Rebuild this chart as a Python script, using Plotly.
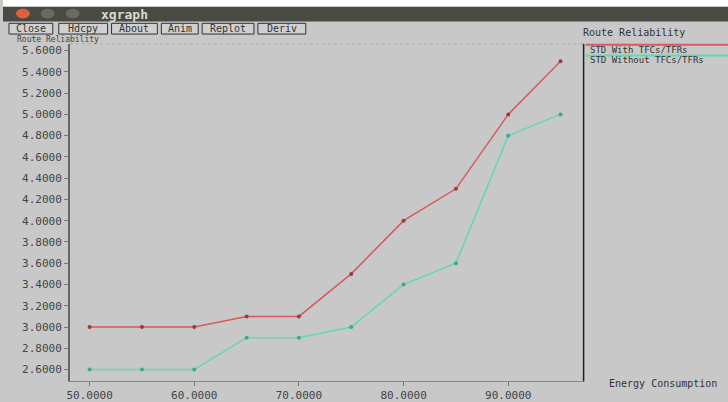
import plotly.graph_objects as go

W, H = 728, 402

x_vals = [50, 55, 60, 65, 70, 75, 80, 85, 90, 95]
with_tfc = [3.0, 3.0, 3.0, 3.1, 3.1, 3.5, 4.0, 4.3, 5.0, 5.5]
without_tfc = [2.6, 2.6, 2.6, 2.9, 2.9, 3.0, 3.4, 3.6, 4.8, 5.0]
series_names = ["STD With TFCs/TFRs", "STD Without TFCs/TFRs"]
y_ticks = [2.6, 2.8, 3.0, 3.2, 3.4, 3.6, 3.8, 4.0, 4.2, 4.4, 4.6, 4.8, 5.0, 5.2, 5.4, 5.6]
x_ticks = [50, 60, 70, 80, 90]
buttons = ["Close", "Hdcpy", "About", "Anim", "Replot", "Deriv"]

RED = "#d65a5a"
GREEN = "#62d8b4"
BG = "#c8c8c8"
MONO = "DejaVu Sans Mono"


def px(x):
    return x / W


def py(y):
    return 1 - y / H


L, R, T, B = 67, 583, 45, 392

fig = go.Figure()
fig.add_trace(go.Scatter(x=x_vals, y=with_tfc, mode="lines+markers", name=series_names[0],
                         line=dict(color=RED, width=1.5),
                         marker=dict(size=4, color="#9a3a3a"), showlegend=False))
fig.add_trace(go.Scatter(x=x_vals, y=without_tfc, mode="lines+markers", name=series_names[1],
                         line=dict(color=GREEN, width=1.5),
                         marker=dict(size=4, color="#3fa888"), showlegend=False))

shapes = []
annotations = []

# window chrome: white strip + title bar
shapes.append(dict(type="rect", xref="paper", yref="paper", x0=0, x1=1, y0=py(7), y1=1,
                   fillcolor="white", line=dict(width=0), layer="below"))
shapes.append(dict(type="rect", xref="paper", yref="paper", x0=0, x1=1, y0=py(22), y1=py(7),
                   fillcolor="#4a4a44", line=dict(width=0), layer="below"))
for cx, col in [(20, "#e0603a"), (45, "#6a6a64"), (70, "#6a6a64")]:
    shapes.append(dict(type="circle", xref="paper", yref="paper",
                       x0=px(cx - 7), x1=px(cx + 7), y0=py(19), y1=py(9),
                       fillcolor=col, line=dict(width=0), layer="above"))
annotations.append(dict(text="<b>xgraph</b>", x=px(96), y=py(14.5), xref="paper", yref="paper",
                        xanchor="left", yanchor="middle", showarrow=False,
                        font=dict(family=MONO, size=13, color="#d8d8d0")))

# buttons
bx = [(6, 50), (56, 105), (109, 155), (159, 196), (200, 252), (256, 304)]
for (x0, x1), lab in zip(bx, buttons):
    shapes.append(dict(type="rect", xref="paper", yref="paper", x0=px(x0), x1=px(x1),
                       y0=py(35), y1=py(24), fillcolor="#d0d0d0",
                       line=dict(color="#333333", width=1), layer="above"))
    annotations.append(dict(text=lab, x=px((x0 + x1) / 2), y=py(29.5), xref="paper", yref="paper",
                            xanchor="center", yanchor="middle", showarrow=False,
                            font=dict(family=MONO, size=10, color="#333333")))

# y unit label (top-left), title (top-right), x unit label (bottom-right)
annotations.append(dict(text="Route Reliability", x=px(12), y=py(40.5), xref="paper", yref="paper",
                        xanchor="left", yanchor="middle", showarrow=False,
                        font=dict(family=MONO, size=8, color="#444444")))
annotations.append(dict(text="Route Reliability", x=px(580), y=py(33), xref="paper", yref="paper",
                        xanchor="left", yanchor="middle", showarrow=False,
                        font=dict(family=MONO, size=10, color="#333333")))
annotations.append(dict(text="Energy Consumption", x=px(607), y=py(394), xref="paper", yref="paper",
                        xanchor="left", yanchor="middle", showarrow=False,
                        font=dict(family=MONO, size=10, color="#333333")))

# legend
for i, (name, col) in enumerate(zip(series_names, [RED, GREEN])):
    yl = 46 + i * 11
    shapes.append(dict(type="line", xref="paper", yref="paper", x0=px(585), x1=px(728),
                       y0=py(yl), y1=py(yl), line=dict(color=col, width=2)))
    annotations.append(dict(text=name, x=px(587), y=py(yl + 5), xref="paper", yref="paper",
                            xanchor="left", yanchor="middle", showarrow=False,
                            font=dict(family=MONO, size=9, color="#333333")))

# plot frame
shapes.append(dict(type="line", xref="paper", yref="paper", x0=px(R), x1=px(R),
                   y0=py(B), y1=py(T), line=dict(color="#222222", width=1.5)))
shapes.append(dict(type="line", xref="paper", yref="paper", x0=px(L), x1=px(R),
                   y0=py(T), y1=py(T), line=dict(color="#b0b0b0", width=1, dash="dot")))

fig.update_layout(
    width=W, height=H,
    margin=dict(l=0, r=0, t=0, b=0),
    paper_bgcolor=BG, plot_bgcolor=BG,
    shapes=shapes, annotations=annotations,
    xaxis=dict(domain=[px(L), px(R)], range=[48.1, 97.2], tickvals=x_ticks,
               tickformat=".4f", showgrid=False, zeroline=False,
               showline=True, linecolor="#888888", linewidth=1,
               ticks="outside", ticklen=4, tickcolor="#777777",
               tickfont=dict(family=MONO, size=11, color="#444444")),
    yaxis=dict(domain=[py(B), py(T)], range=[2.49, 5.664], tickvals=y_ticks,
               tickformat=".4f", showgrid=False, zeroline=False,
               showline=True, linecolor="#666666", linewidth=1.5,
               ticks="outside", ticklen=4, tickcolor="#777777",
               tickfont=dict(family=MONO, size=11, color="#444444")),
)

fig.write_html("out.html")
